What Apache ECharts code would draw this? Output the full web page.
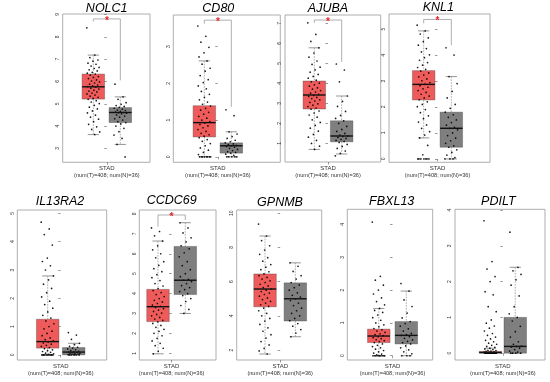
<!DOCTYPE html>
<html><head><meta charset="utf-8">
<script src="https://cdn.jsdelivr.net/npm/echarts@6/dist/echarts.min.js"></script>
<style>html,body{margin:0;padding:0;background:#fff}#c{width:550px;height:382px}</style>
</head><body><div id="c"></div><script>
const genes = ['NOLC1','CD80','AJUBA','KNL1','IL13RA2','CCDC69','GPNMB','FBXL13','PDILT'];
const xLabelTop = 'STAD';
const xLabelBottom = '(num(T)=408; num(N)=36)';
// [lower whisker, Q1, median, Q3, upper whisker]
const tumorBoxes = [
  [3.62,5.21,5.76,6.33,7.18],
  [0,0.54,0.93,1.39,2.61],
  [0.7,2.72,3.42,4.12,5.78],
  [0.81,2.27,2.87,3.4,4.93],
  [0,0.24,0.47,1.26,2.79],
  [0.97,2.59,3.34,4.21,6.64],
  [1.77,4.53,5.57,6.45,8.67],
  [0,0.4,0.6,0.81,1.44],
  [0,0,0.02,0.05,0.14]
];
const normalBoxes = [
  [3.18,4.16,4.61,4.83,5.31],
  [0,0.1,0.3,0.38,0.68],
  [0.47,1.08,1.37,2.13,3.37],
  [0,0.45,1.18,1.8,3.17],
  [0,0,0.1,0.26,0.41],
  [3.0,3.95,4.67,6.37,7.56],
  [2.78,3.7,5.0,5.93,7.1],
  [0,0.36,0.62,1.04,1.97],
  [0,0,0.19,1.0,2.4]
];
const yTicks = [
  [3,4,5,6,7,8,9],
  [0,1,2,3],
  [1,2,3,4,5,6,7],
  [0,1,2,3,4,5],
  [0,1,2,3,4,5],
  [1,2,3,4,5,6,7,8],
  [2,4,6,8,10],
  [0,1,2,3,4],
  [0,1,2,3,4]
];
const tumorPoints = [
  [8.4,7.18,7.07,6.96,6.91,6.82,6.77,6.69,6.63,6.58,6.52,6.47,6.41,6.37,6.33,6.28,6.22,6.18,6.13,6.07,6.02,5.98,5.93,5.88,5.84,5.8,5.77,5.74,5.7,5.66,5.61,5.57,5.53,5.48,5.44,5.39,5.34,5.29,5.24,5.2,5.14,5.08,5.01,4.93,4.85,4.77,4.68,4.59,4.49,4.4,4.31,4.2,4.08,3.97,3.85,3.74,3.62],
  [3.56,3.28,3.12,2.98,2.83,2.72,2.61,2.52,2.41,2.33,2.21,2.1,2.02,1.93,1.85,1.78,1.7,1.62,1.55,1.49,1.43,1.38,1.32,1.27,1.21,1.16,1.1,1.05,1.0,0.96,0.92,0.88,0.84,0.79,0.74,0.69,0.64,0.6,0.56,0.52,0.47,0.42,0.36,0.3,0.24,0.18,0.12,0.06,0,0,0,0,0,0,0,0],
  [7.03,6.45,6.1,5.78,5.52,5.31,5.12,4.95,4.81,4.68,4.56,4.45,4.35,4.26,4.16,4.08,4.01,3.93,3.86,3.78,3.71,3.64,3.57,3.51,3.45,3.4,3.35,3.3,3.24,3.18,3.12,3.05,2.98,2.91,2.84,2.77,2.71,2.62,2.52,2.42,2.31,2.18,2.05,1.9,1.76,1.61,1.45,1.31,1.15,1.0,0.86,0.7],
  [5.15,4.93,4.81,4.66,4.52,4.38,4.25,4.12,4.01,3.9,3.8,3.71,3.61,3.52,3.45,3.38,3.31,3.23,3.16,3.08,3.01,2.94,2.88,2.82,2.76,2.7,2.63,2.56,2.49,2.42,2.35,2.28,2.2,2.1,2.01,1.9,1.78,1.66,1.55,1.42,1.31,1.18,1.05,0.92,0.81,0.52,0.16,0,0,0,0,0,0,0],
  [4.69,4.45,4.25,3.88,3.42,3.3,3.15,3.0,2.79,2.65,2.5,2.35,2.2,2.05,1.9,1.78,1.65,1.52,1.4,1.3,1.2,1.1,1.0,0.92,0.84,0.76,0.68,0.6,0.54,0.5,0.46,0.42,0.38,0.34,0.3,0.26,0.22,0.18,0.15,0.12,0.09,0.06,0.04,0.02,0,0,0,0,0,0,0,0,0,0],
  [7.3,7.12,6.9,6.64,6.4,6.2,6.0,5.8,5.6,5.42,5.25,5.1,4.95,4.8,4.65,4.5,4.38,4.25,4.15,4.05,3.95,3.85,3.75,3.66,3.58,3.5,3.42,3.36,3.3,3.24,3.17,3.1,3.02,2.95,2.88,2.8,2.72,2.65,2.58,2.5,2.4,2.3,2.2,2.1,2.0,1.88,1.75,1.62,1.5,1.38,1.25,1.1,0.97],
  [9.37,8.67,8.4,8.1,7.85,7.6,7.4,7.2,7.0,6.85,6.7,6.58,6.45,6.35,6.25,6.15,6.05,5.95,5.85,5.75,5.65,5.57,5.5,5.42,5.33,5.25,5.15,5.05,4.95,4.85,4.75,4.65,4.55,4.45,4.3,4.15,4.0,3.85,3.7,3.5,3.3,3.1,2.9,2.7,2.5,2.3,2.1,1.95,1.77],
  [4.07,2.42,2.3,2.15,2.0,1.88,1.76,1.65,1.55,1.44,1.38,1.32,1.24,1.16,1.08,1.0,0.94,0.88,0.83,0.79,0.75,0.71,0.67,0.64,0.61,0.58,0.55,0.52,0.49,0.46,0.43,0.4,0.36,0.32,0.28,0.24,0.2,0.16,0.12,0.08,0.05,0.03,0,0,0,0,0,0,0,0,0,0],
  [3.7,2.56,2.35,2.14,2.0,1.72,1.63,1.3,1.16,0.93,0.84,0.76,0.7,0.62,0.55,0.5,0.45,0.4,0.36,0.32,0.28,0.25,0.22,0.19,0.16,0.14,0.12,0.1,0.08,0.07,0.06,0.05,0.04,0.03,0.03,0.02,0.02,0.01,0.01,0,0,0,0,0,0,0,0,0,0,0,0,0]
];
const normalPoints = [
  [5.88,5.31,5.2,5.05,4.98,4.92,4.88,4.84,4.8,4.76,4.72,4.7,4.66,4.63,4.61,4.6,4.58,4.55,4.5,4.45,4.4,4.33,4.27,4.2,4.16,4.1,4.0,3.9,3.75,3.6,3.45,3.18,2.62],
  [1.28,1.12,0.68,0.62,0.55,0.5,0.45,0.41,0.38,0.35,0.33,0.31,0.3,0.28,0.26,0.23,0.2,0.17,0.14,0.12,0.1,0.07,0.04,0,0,0,0,0],
  [4.97,4.67,4.08,3.37,3.1,2.85,2.6,2.4,2.25,2.13,2.0,1.85,1.7,1.6,1.5,1.42,1.38,1.35,1.3,1.25,1.2,1.15,1.1,1.05,0.95,0.85,0.75,0.62,0.5,0.38],
  [4.28,4.0,3.17,2.9,2.6,2.35,2.1,1.95,1.8,1.7,1.6,1.5,1.4,1.3,1.22,1.18,1.12,1.0,0.9,0.8,0.7,0.6,0.5,0.45,0.35,0.25,0.15,0.05,0,0,0],
  [0.79,0.7,0.55,0.41,0.36,0.3,0.27,0.24,0.21,0.18,0.15,0.13,0.11,0.1,0.09,0.08,0.06,0.05,0.04,0.03,0.02,0.01,0,0,0,0,0],
  [7.56,7.3,7.05,6.8,6.6,6.4,6.25,6.05,5.85,5.6,5.4,5.2,5.0,4.85,4.72,4.67,4.6,4.5,4.4,4.3,4.2,4.1,4.0,3.9,3.75,3.6,3.4,3.2,3.0],
  [7.1,6.9,6.6,6.35,6.15,5.95,5.8,5.65,5.5,5.35,5.2,5.1,5.0,4.9,4.75,4.6,4.45,4.3,4.15,4.0,3.85,3.72,3.55,3.4,3.2,3.0,2.78],
  [2.2,1.97,1.7,1.5,1.3,1.15,1.04,0.98,0.9,0.82,0.75,0.68,0.64,0.62,0.58,0.53,0.48,0.44,0.4,0.36,0.3,0.24,0.18,0.12,0.06,0,0,0],
  [3.38,2.4,2.3,2.2,2.05,1.9,1.6,1.3,1.1,1.0,0.9,0.75,0.6,0.45,0.32,0.25,0.2,0.19,0.17,0.14,0.1,0.06,0.03,0,0,0,0]
];
// significance brackets: [tumor leg end, normal leg end, bracket level]
const brackets = [[8.68,6.05,8.8],[3.62,1.36,3.72],[7.03,5.08,7.17],[5.22,4.38,5.37],null,[7.36,7.7,7.95],null,null,null];

// layout (pixels) and axis extents
const layout = [
  {l:62.7,r:150,t:14,b:162.3,xmin:-3.27,xmax:3.2,ymin:2.38,ymax:9.02,tx:106.7,ty:8.5},
  {l:173.3,r:280.3,t:15,b:162.3,xmin:-3.3,xmax:4.63,ymin:-0.15,ymax:3.86,tx:218.3,ty:8.5},
  {l:285,r:380.7,t:15,b:162,xmin:-3.14,xmax:3.85,ymin:0.07,ymax:7.42,tx:328,ty:8.5},
  {l:389,r:490,t:14,b:162.3,xmin:-3.51,xmax:3.8,ymin:-0.13,ymax:5.58,tx:438.3,ty:8},
  {l:17.3,r:106.7,t:210,b:360,xmin:-3.34,xmax:3.54,ymin:-0.18,ymax:5.12,tx:60,ty:201.7},
  {l:139.3,r:216,t:210,b:360,xmin:-2.37,xmax:3.25,ymin:0.66,ymax:8.2,tx:171.7,ty:201},
  {l:236.7,r:321.7,t:210,b:360,xmin:-2.87,xmax:2.74,ymin:1.42,ymax:10.19,tx:280,ty:202.5},
  {l:347.3,r:432.7,t:209.3,b:360,xmin:-3.29,xmax:2.92,ymin:-0.13,ymax:4.46,tx:391.7,ty:201.7},
  {l:455,r:545,t:209.3,b:360,xmin:-3.86,xmax:3.4,ymin:-0.19,ymax:4.02,tx:498.3,ty:201.7}
];
const RED = '#EF5B5B', GREY = '#7F7F7F';
const BOXW = 22.5, JIT = 6.5;

function renderBox(params, api) {
  const x = api.value(0);
  const lo = api.coord([x, api.value(1)]);
  const q1 = api.coord([x, api.value(2)]);
  const q3 = api.coord([x, api.value(4)]);
  const hi = api.coord([x, api.value(5)]);
  const cx = lo[0], hw = BOXW / 2, cw = BOXW / 4;
  const fill = x < 0 ? RED : GREY;
  const wStyle = {stroke: '#8a8a8a', lineWidth: 0.7, lineDash: [1.6, 1.2]};
  const cStyle = {stroke: '#8a8a8a', lineWidth: 0.9};
  return {type: 'group', children: [
    {type: 'line', shape: {x1: cx, y1: hi[1], x2: cx, y2: q3[1]}, style: wStyle},
    {type: 'line', shape: {x1: cx, y1: q1[1], x2: cx, y2: lo[1]}, style: wStyle},
    {type: 'line', shape: {x1: cx - cw, y1: hi[1], x2: cx + cw, y2: hi[1]}, style: cStyle},
    {type: 'line', shape: {x1: cx - cw, y1: lo[1], x2: cx + cw, y2: lo[1]}, style: cStyle},
    {type: 'rect', shape: {x: cx - hw, y: q3[1], width: BOXW, height: Math.max(q1[1] - q3[1], 1)},
      style: {fill: fill, stroke: 'rgba(60,60,60,0.7)', lineWidth: 0.5}}
  ]};
}
function renderMedian(params, api) {
  const x = api.value(0);
  const md = api.coord([x, api.value(3)]);
  const hw = BOXW / 2;
  return {type: 'line', shape: {x1: md[0] - hw, y1: md[1], x2: md[0] + hw, y2: md[1]},
    style: {stroke: '#111', lineWidth: 1.4}};
}
function renderPoint(params, api) {
  const p = api.coord([api.value(0), api.value(1)]);
  const k = api.value(2);
  const off = (((k * 0.618034) % 1) - 0.5) * 2 * JIT;
  return {type: 'circle', shape: {cx: p[0] + off, cy: p[1], r: 0.85},
    style: {fill: '#000', opacity: 0.9}};
}
function renderBracket(params, api) {
  const a = api.coord([-1, api.value(0)]);
  const b = api.coord([1, api.value(1)]);
  const t = api.coord([0, api.value(2)]);
  const lt = api.coord([-1, api.value(2)]);
  const rt = api.coord([1, api.value(2)]);
  return {type: 'group', children: [
    {type: 'polyline', shape: {points: [[a[0], a[1]], [lt[0], lt[1]], [rt[0], rt[1]], [b[0], b[1]]]},
      style: {stroke: '#9a9a9a', lineWidth: 0.8, fill: null}},
    {type: 'text', x: t[0], y: t[1] + 2, style: {text: '*', fill: '#e8252a', fontSize: 10,
      fontWeight: 'bold', textAlign: 'center', textVerticalAlign: 'middle', fontFamily: 'Liberation Sans'}}
  ]};
}

const grid = [], xAxis = [], yAxis = [], series = [], graphic = [];
genes.forEach((g, i) => {
  const L = layout[i];
  grid.push({left: L.l, top: L.t, width: L.r - L.l, height: L.b - L.t, show: true,
    borderColor: '#9a9a9a', borderWidth: 0.8, backgroundColor: 'transparent'});
  xAxis.push({type: 'value', gridIndex: i, min: L.xmin, max: L.xmax,
    axisLine: {show: false}, splitLine: {show: false},
    axisTick: {show: true, customValues: [0], length: 2.5, lineStyle: {color: '#555', width: 0.6}},
    axisLabel: {show: true, customValues: [0], margin: 3,
      formatter: () => '{a|' + xLabelTop + '}\n{b|' + xLabelBottom + '}',
      rich: {a: {fontSize: 6, lineHeight: 7, color: '#333', fontFamily: 'Liberation Sans'},
             b: {fontSize: 5.6, lineHeight: 7, color: '#333', fontFamily: 'Liberation Sans'}}}});
  yAxis.push({type: 'value', gridIndex: i, min: L.ymin, max: L.ymax,
    axisLine: {show: false}, splitLine: {show: false},
    axisTick: {show: true, customValues: yTicks[i], length: 2.5, lineStyle: {color: '#555', width: 0.6}},
    axisLabel: {show: true, customValues: yTicks[i], rotate: 90, margin: 2.5, fontSize: 5,
      color: '#333', fontFamily: 'Liberation Sans'}});
  const boxData = [[-1].concat(tumorBoxes[i]), [1].concat(normalBoxes[i])];
  series.push({type: 'custom', xAxisIndex: i, yAxisIndex: i, renderItem: renderBox, data: boxData, z: 1, silent: true});
  const pts = tumorPoints[i].map((v, k) => [-1, v, k]).concat(normalPoints[i].map((v, k) => [1, v, k + 5]));
  series.push({type: 'custom', xAxisIndex: i, yAxisIndex: i, renderItem: renderPoint, data: pts, z: 2, silent: true});
  series.push({type: 'custom', xAxisIndex: i, yAxisIndex: i, renderItem: renderMedian, data: boxData, z: 3, silent: true});
  if (brackets[i]) {
    series.push({type: 'custom', xAxisIndex: i, yAxisIndex: i, renderItem: renderBracket, data: [brackets[i]], z: 4, silent: true});
  }
  graphic.push({type: 'text', x: L.tx, y: L.ty, style: {text: g, fontSize: 12.5, fontStyle: 'italic',
    fontFamily: 'Liberation Sans', fill: '#000', textAlign: 'center', textVerticalAlign: 'middle'}});
});

const chart = echarts.init(document.getElementById('c'), null, {renderer: 'canvas'});
chart.setOption({animation: false, backgroundColor: '#fff', grid, xAxis, yAxis, series, graphic});
</script></body></html>
